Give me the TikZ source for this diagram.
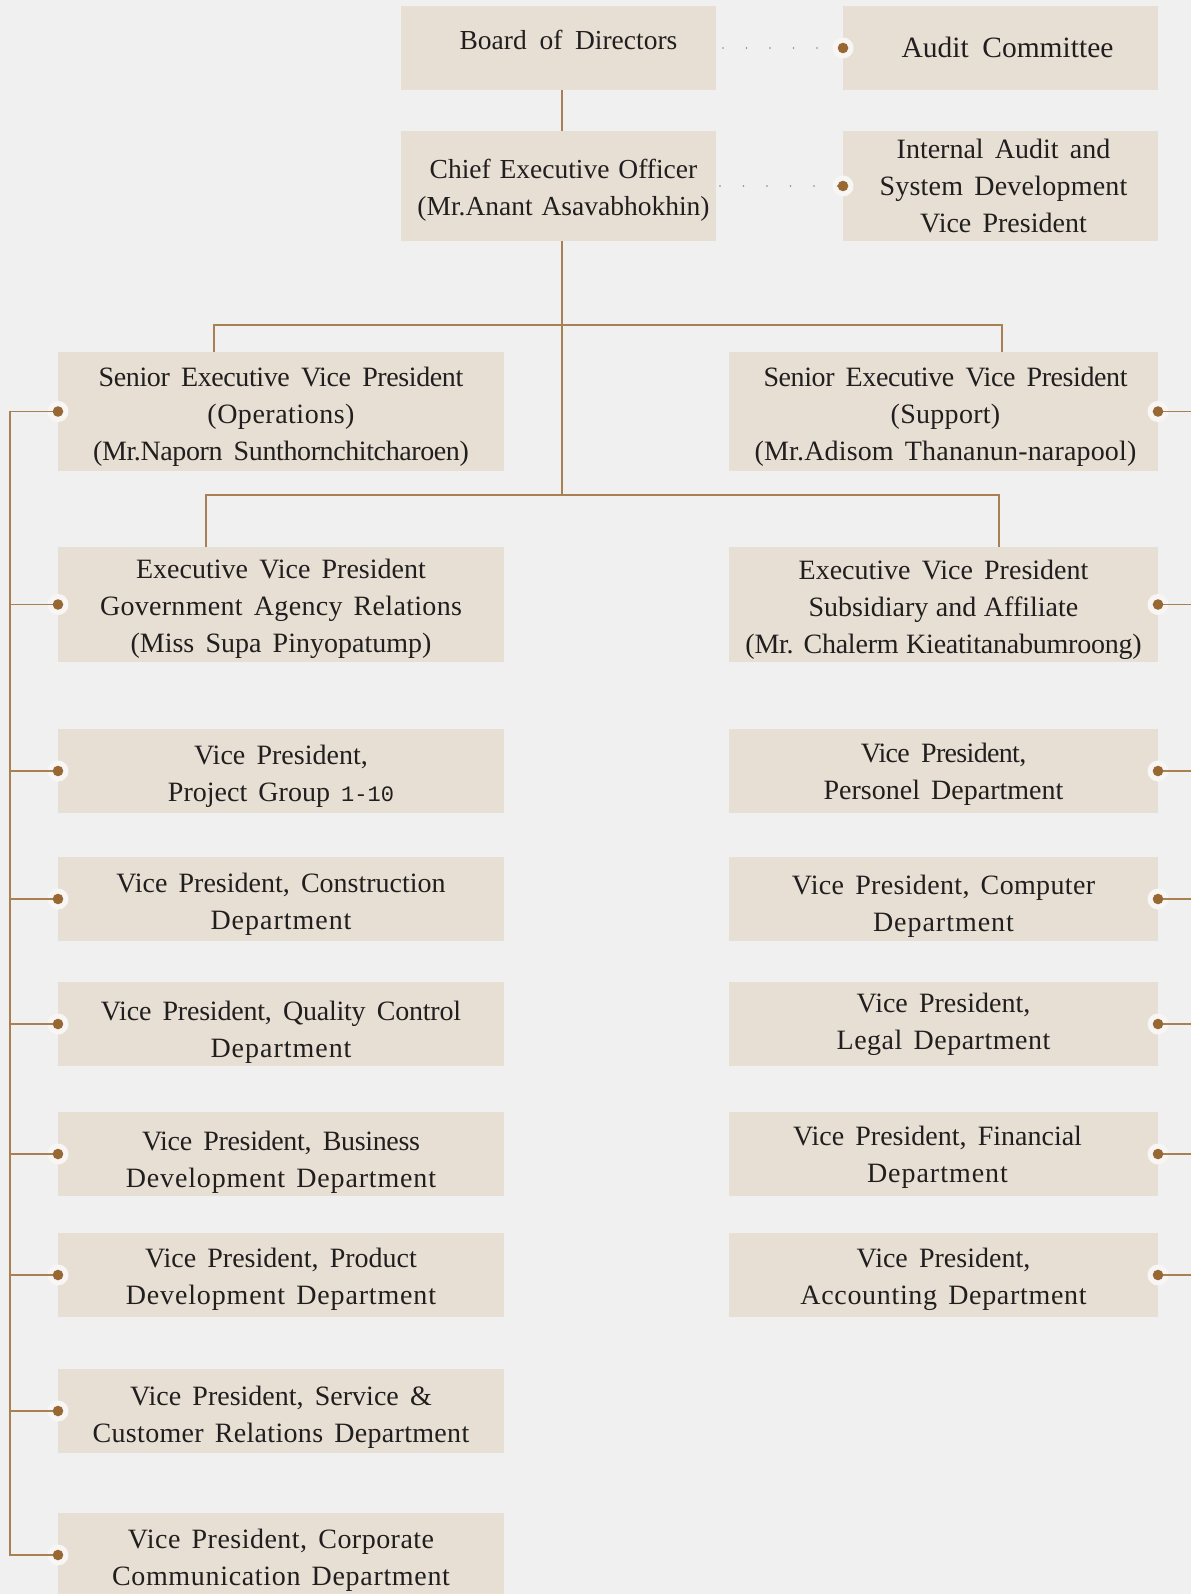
\documentclass[tikz,border=0pt]{standalone}
\usepackage{fontspec}
\setmainfont{Liberation Serif}
\newfontfamily\numfont{Liberation Mono}
\usetikzlibrary{calc}
\definecolor{bgc}{RGB}{240,240,240}
\definecolor{boxc}{RGB}{232,223,212}
\definecolor{linec}{RGB}{168,128,82}
\definecolor{dotc}{RGB}{152,104,52}
\definecolor{haloc}{RGB}{247,246,244}
\definecolor{txtc}{RGB}{32,30,30}
\newcommand\fs[2]{\fontsize{#1}{37}\selectfont\spaceskip=#2em\relax}
\newcommand\ns[1]{{\spaceskip=0.27em\relax #1}}
\newcommand\ls[2]{{\addfontfeature{LetterSpace=#1}#2}}
\newcommand\obox[7]{%
  \node[boxsty, minimum width={#4pt-#2pt}, minimum height={#5pt-#3pt}] (#1) at ({(#2+#4)/2},{(#3+#5)/2}) {};
  \node[txtsty, #6] (#1-t) at (#1.center) {#7};
}
\begin{document}
\begin{tikzpicture}[x=1pt,y=-1pt,
  boxsty/.style={rectangle, fill=boxc, draw=none, inner sep=0pt, outer sep=0pt},
  txtsty/.style={align=center, inner sep=0pt, text=txtc, font=\fs{28}{0.4}},
  conn/.style={draw=linec, line width=1.4pt},
  dotline/.style={draw=dotc!85, line width=1.7pt, line cap=round, dash pattern=on 0pt off 23.5pt}]
\useasboundingbox (0,0) rectangle (1191,1594);
\clip (0,0) rectangle (1191,1594);
\fill[bgc] (0,0) rectangle (1191,1594);

% top
\obox{board}{401}{6}{716}{90}{xshift=10pt,yshift=8pt,font=\fs{27.5}{0.46}}{Board of Directors}
\obox{audit}{843}{6}{1158}{90}{xshift=7pt,yshift=1pt,font=\fs{29.5}{0.46}}{Audit Committee}
\obox{ceo}{401}{131}{716}{241}{xshift=5pt,yshift=-4pt,font=\fs{27.5}{0.32}}{Chief Executive Officer\\(Mr.Anant Asavabhokhin)}
\obox{ia}{843}{131}{1158}{241}{xshift=3pt}{Internal Audit and\\\ls{0.8}{System Development}\\Vice President}
% senior / executive
\obox{sevpL}{58}{352}{504}{471}{yshift=-5pt}{\ls{-1.4}{Senior Executive Vice President}\\\ls{1.8}{(Operations)}\\\ls{-1.4}{(Mr.Naporn Sunthornchitcharoen)}}
\obox{sevpR}{729}{352}{1158}{471}{xshift=2pt,yshift=-5pt}{\ls{-1.5}{Senior Executive Vice President}\\\ls{1}{(Support)}\\\ls{0.6}{(Mr.Adisom Thananun-narapool)}}
\obox{evpL}{58}{547}{504}{662}{yshift=-4pt}{Executive Vice President\\\ls{1.1}{Government Agency Relations}\\(Miss Supa Pinyopatump)}
\obox{evpR}{729}{547}{1158}{662}{yshift=-5pt}{Executive Vice President\\\ns{Subsidiary and Affiliate}\\\ls{-0.8}{\ns{(Mr. Chalerm Kieatitanabumroong)}}}
% left VPs
\obox{pg}{58}{729}{504}{813}{yshift=-5pt}{Vice President,\\Project Group {\numfont\fontsize{22}{37}\selectfont 1-10}}
\obox{con}{58}{857}{504}{941}{yshift=-5pt}{Vice President, Construction\\\ls{3.5}{Department}}
\obox{qc}{58}{982}{504}{1066}{yshift=-8pt}{\ls{-0.8}{Vice President, Quality Control}\\\ls{3.5}{Department}}
\obox{bd}{58}{1112}{504}{1196}{yshift=-8pt}{\ls{-1.2}{Vice President, Business}\\\ls{3}{Development Department}}
\obox{pd}{58}{1233}{504}{1317}{yshift=-4pt}{Vice President, Product\\\ls{3}{Development Department}}
\obox{svc}{58}{1369}{504}{1453}{yshift=-6pt}{Vice President, Service \&\\\ls{1.1}{Customer Relations Department}}
\obox{cc}{58}{1513}{504}{1597}{yshift=-5pt}{\ls{1.7}{Vice President, Corporate}\\\ls{2.4}{Communication Department}}
% right VPs
\obox{per}{729}{729}{1158}{813}{yshift=-3pt}{\ls{-2.4}{Vice President,}\\Personel Department}
\obox{comp}{729}{857}{1158}{941}{yshift=-7pt}{\ls{1.2}{Vice President, Computer}\\\ls{3.5}{Department}}
\obox{legal}{729}{982}{1158}{1066}{}{Vice President,\\\ls{1.8}{Legal Department}}
\obox{fin}{729}{1112}{1158}{1196}{xshift=-6pt,yshift=-3pt}{Vice President, Financial\\\ls{3.5}{Department}}
\obox{acc}{729}{1233}{1158}{1317}{yshift=-4pt}{Vice President,\\\ls{2.4}{Accounting Department}}

\coordinate (j1) at (562,325);
\coordinate (j2) at (562,495);
\coordinate (lbus) at (10,0);
\coordinate (rbus) at (1191,0);

% halos
\foreach \p in {audit.west,ia.west,sevpL.west,evpL.west,pg.west,con.west,qc.west,bd.west,pd.west,svc.west,cc.west,sevpR.east,evpR.east,per.east,comp.east,legal.east,fin.east,acc.east}
  \fill[haloc] (\p) circle (10.5pt);

% connectors
\draw[conn] ([xshift=161pt]board.south west) -- ([xshift=161pt]ceo.north west);
\draw[conn] ([xshift=161pt]ceo.south west) -- (j2);
\draw[conn] ([xshift=156pt]sevpL.north west) |- (j1) -| ([xshift=273pt]sevpR.north west);
\draw[conn] ([xshift=148pt]evpL.north west) |- (j2) -| ([xshift=270pt]evpR.north west);
\draw[conn] (sevpL.west) -| (lbus |- cc.west) -- (cc.west);
\foreach \n in {evpL,pg,con,qc,bd,pd,svc}
  \draw[conn] (\n.west) -- (\n.west -| lbus);
\foreach \n in {sevpR,evpR,per,comp,legal,fin,acc}
  \draw[conn] (\n.east) -- (\n.east -| rbus);
\draw[dotline] ([xshift=7pt]board.east) -- (audit.west);
\draw[dotline] ([xshift=4pt]ceo.east) -- (ia.west);

% dots
\foreach \p in {audit.west,ia.west,sevpL.west,evpL.west,pg.west,con.west,qc.west,bd.west,pd.west,svc.west,cc.west,sevpR.east,evpR.east,per.east,comp.east,legal.east,fin.east,acc.east}
  \fill[dotc] (\p) circle (5.3pt);
\end{tikzpicture}
\end{document}
